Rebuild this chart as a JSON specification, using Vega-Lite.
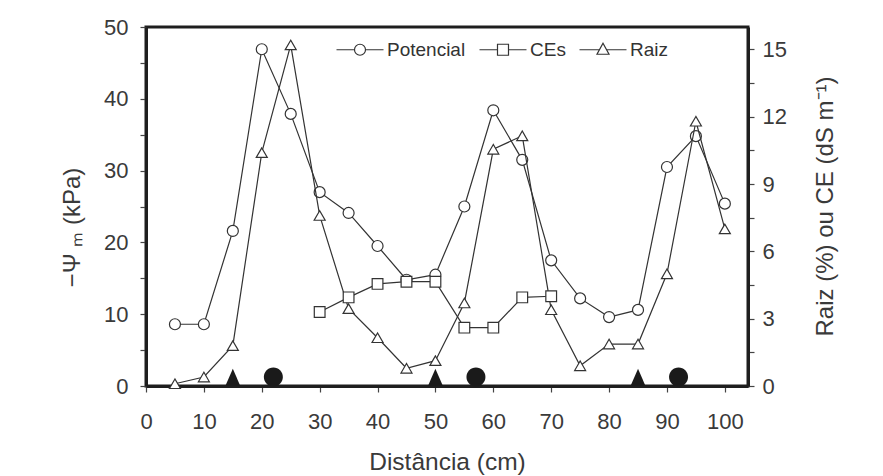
{
  "$schema": "https://vega.github.io/schema/vega-lite/v6.json",
  "width": 602,
  "height": 359,
  "autosize": {"type": "none"},
  "padding": {"left": 146, "top": 27, "right": 135, "bottom": 90},
  "background": "#ffffff",
  "config": {
    "view": {"stroke": "#1e1e1e", "strokeWidth": 3},
    "font": "Liberation Sans",
    "axis": {
      "domainColor": "#1e1e1e", "domainWidth": 3,
      "tickColor": "#444444", "tickWidth": 1.2, "tickSize": 6,
      "labelFont": "Liberation Sans", "labelFontSize": 22, "labelColor": "#3a3a3a",
      "titleFont": "Liberation Sans", "titleFontSize": 24.5, "titleColor": "#3a3a3a", "titleFontWeight": "normal",
      "grid": false, "labelOverlap": false, "labelFlush": false
    }
  },
  "datasets": {
    "series": [
      {"dist": 5, "serie": "Potencial", "valor": 8.6},
      {"dist": 10, "serie": "Potencial", "valor": 8.6},
      {"dist": 15, "serie": "Potencial", "valor": 21.6},
      {"dist": 20, "serie": "Potencial", "valor": 46.9},
      {"dist": 25, "serie": "Potencial", "valor": 37.9},
      {"dist": 30, "serie": "Potencial", "valor": 27.0},
      {"dist": 35, "serie": "Potencial", "valor": 24.1},
      {"dist": 40, "serie": "Potencial", "valor": 19.5},
      {"dist": 45, "serie": "Potencial", "valor": 14.8},
      {"dist": 50, "serie": "Potencial", "valor": 15.5},
      {"dist": 55, "serie": "Potencial", "valor": 25.0},
      {"dist": 60, "serie": "Potencial", "valor": 38.4},
      {"dist": 65, "serie": "Potencial", "valor": 31.5},
      {"dist": 70, "serie": "Potencial", "valor": 17.5},
      {"dist": 75, "serie": "Potencial", "valor": 12.2},
      {"dist": 80, "serie": "Potencial", "valor": 9.6},
      {"dist": 85, "serie": "Potencial", "valor": 10.6},
      {"dist": 90, "serie": "Potencial", "valor": 30.5},
      {"dist": 95, "serie": "Potencial", "valor": 34.8},
      {"dist": 100, "serie": "Potencial", "valor": 25.4},
      {"dist": 30, "serie": "CEs", "valor": 3.3},
      {"dist": 35, "serie": "CEs", "valor": 3.95},
      {"dist": 40, "serie": "CEs", "valor": 4.55},
      {"dist": 45, "serie": "CEs", "valor": 4.65},
      {"dist": 50, "serie": "CEs", "valor": 4.65},
      {"dist": 55, "serie": "CEs", "valor": 2.6},
      {"dist": 60, "serie": "CEs", "valor": 2.6},
      {"dist": 65, "serie": "CEs", "valor": 3.95},
      {"dist": 70, "serie": "CEs", "valor": 4.0},
      {"dist": 5, "serie": "Raiz", "valor": 0.1},
      {"dist": 10, "serie": "Raiz", "valor": 0.4},
      {"dist": 15, "serie": "Raiz", "valor": 1.8},
      {"dist": 20, "serie": "Raiz", "valor": 10.4},
      {"dist": 25, "serie": "Raiz", "valor": 15.2},
      {"dist": 30, "serie": "Raiz", "valor": 7.6},
      {"dist": 35, "serie": "Raiz", "valor": 3.45},
      {"dist": 40, "serie": "Raiz", "valor": 2.15},
      {"dist": 45, "serie": "Raiz", "valor": 0.79},
      {"dist": 50, "serie": "Raiz", "valor": 1.13},
      {"dist": 55, "serie": "Raiz", "valor": 3.7},
      {"dist": 60, "serie": "Raiz", "valor": 10.55},
      {"dist": 65, "serie": "Raiz", "valor": 11.15},
      {"dist": 70, "serie": "Raiz", "valor": 3.4},
      {"dist": 75, "serie": "Raiz", "valor": 0.9},
      {"dist": 80, "serie": "Raiz", "valor": 1.87},
      {"dist": 85, "serie": "Raiz", "valor": 1.87},
      {"dist": 90, "serie": "Raiz", "valor": 5.0},
      {"dist": 95, "serie": "Raiz", "valor": 11.8},
      {"dist": 100, "serie": "Raiz", "valor": 7.0}
    ],
    "marcas": [
      {"dist": 15, "tipo": "triangulo"},
      {"dist": 50, "tipo": "triangulo"},
      {"dist": 85, "tipo": "triangulo"},
      {"dist": 22, "tipo": "circulo"},
      {"dist": 57, "tipo": "circulo"},
      {"dist": 92, "tipo": "circulo"}
    ]
  },
  "resolve": {"scale": {"y": "independent"}},
  "layer": [
    {
      "data": {"name": "series"},
      "encoding": {
        "x": {
          "field": "dist", "type": "quantitative",
          "scale": {"domain": [0, 104], "nice": false, "zero": false},
          "axis": {
            "title": "Distância (cm)",
            "values": [0, 5, 10, 15, 20, 25, 30, 35, 40, 45, 50, 55, 60, 65, 70, 75, 80, 85, 90, 95, 100],
            "labelExpr": "datum.value % 10 === 0 ? datum.label : ''",
            "labelPadding": 19,
            "titleX": 301, "titleY": 76, "titleBaseline": "middle", "titleAlign": "center"
          }
        },
        "y": {
          "field": "valor", "type": "quantitative",
          "scale": {"domain": [0, 50], "nice": false},
          "axis": {
            "orient": "left",
            "title": "−Ψ ₘ  (kPa)",
            "titleFontSize": 24,
            "values": [0, 5, 10, 15, 20, 25, 30, 35, 40, 45, 50],
            "labelExpr": "datum.value % 10 === 0 ? datum.label : ''",
            "labelPadding": 12,
            "titleX": -74, "titleY": 200, "titleAngle": -90, "titleBaseline": "middle", "titleAlign": "center"
          }
        }
      },
      "layer": [
        {
          "transform": [{"filter": "datum.serie === 'Potencial'"}],
          "mark": {"type": "line", "color": "#333333", "strokeWidth": 1.2}
        },
        {
          "transform": [{"filter": "datum.serie === 'Potencial'"}],
          "mark": {"type": "point", "shape": "circle", "filled": true, "fill": "#ffffff", "stroke": "#333333", "strokeWidth": 1.2, "opacity": 1, "size": 121}
        },
        {
          "transform": [{"filter": "datum.dist < 0"}],
          "mark": {"type": "point", "filled": false, "color": "#333333", "strokeWidth": 1.2, "opacity": 1, "size": 100},
          "encoding": {
            "shape": {
              "field": "serie", "type": "nominal",
              "scale": {
                "domain": ["Potencial", "CEs", "Raiz"],
                "range": [
                  "M-1,0L2.6,0M4.8,0L8.4,0M4.8,0A1.1,1.1 0 1,1 2.6,0A1.1,1.1 0 1,1 4.8,0Z",
                  "M-1,0L2.6,0M4.8,0L8.4,0M2.6,-1.1L4.8,-1.1L4.8,1.1L2.6,1.1Z",
                  "M-1,0L2.99,0M4.41,0L8.4,0M3.7,-1.3L4.9,0.9L2.5,0.9Z"
                ]
              },
              "legend": {
                "orient": "none", "legendX": 186, "legendY": 13, "direction": "horizontal",
                "title": null, "padding": 0,
                "labelFont": "Liberation Sans", "labelFontSize": 19, "labelColor": "#333333",
                "symbolSize": 100, "symbolStrokeWidth": 1.2, "symbolStrokeColor": "#333333",
                "symbolFillColor": "transparent", "symbolOpacity": 1,
                "labelOffset": 36, "columnPadding": 9
              }
            }
          }
        }
      ]
    },
    {
      "data": {"name": "series"},
      "transform": [{"filter": "datum.serie !== 'Potencial'"}],
      "encoding": {
        "x": {"field": "dist", "type": "quantitative"},
        "y": {
          "field": "valor", "type": "quantitative",
          "scale": {"domain": [0, 16], "nice": false},
          "axis": {
            "orient": "right",
            "title": "Raiz (%) ou CE (dS m⁻¹)",
            "titleFontSize": 24,
            "values": [0, 1.5, 3, 4.5, 6, 7.5, 9, 10.5, 12, 13.5, 15],
            "labelExpr": "datum.value % 3 === 0 ? datum.label : ''",
            "labelPadding": 8,
            "titleX": 77, "titleY": 179, "titleAngle": -90, "titleBaseline": "middle", "titleAlign": "center"
          }
        }
      },
      "layer": [
        {
          "mark": {"type": "line", "color": "#333333", "strokeWidth": 1.2},
          "encoding": {"detail": {"field": "serie", "type": "nominal"}}
        },
        {
          "transform": [{"filter": "datum.serie === 'CEs'"}],
          "mark": {"type": "point", "shape": "square", "filled": true, "fill": "#ffffff", "stroke": "#333333", "strokeWidth": 1.2, "opacity": 1, "size": 115}
        },
        {
          "transform": [{"filter": "datum.serie === 'Raiz'"}],
          "mark": {"type": "point", "shape": "triangle-up", "filled": true, "fill": "#ffffff", "stroke": "#333333", "strokeWidth": 1.2, "opacity": 1, "size": 121}
        }
      ]
    },
    {
      "data": {"name": "marcas"},
      "encoding": {
        "x": {"field": "dist", "type": "quantitative"},
        "y": {"datum": 0, "type": "quantitative", "scale": {"domain": [0, 50], "nice": false}, "axis": null}
      },
      "layer": [
        {
          "transform": [{"filter": "datum.tipo === 'triangulo'"}],
          "mark": {"type": "point", "filled": true, "color": "#1a1a1a", "opacity": 1, "size": 225, "shape": "M0,-2.3L-1,0L1,0Z"}
        },
        {
          "transform": [{"filter": "datum.tipo === 'circulo'"}],
          "mark": {"type": "point", "filled": true, "color": "#1a1a1a", "opacity": 1, "size": 361, "shape": "M1,-0.95A1,1 0 1,1 -1,-0.95A1,1 0 1,1 1,-0.95Z"}
        }
      ]
    }
  ]
}
